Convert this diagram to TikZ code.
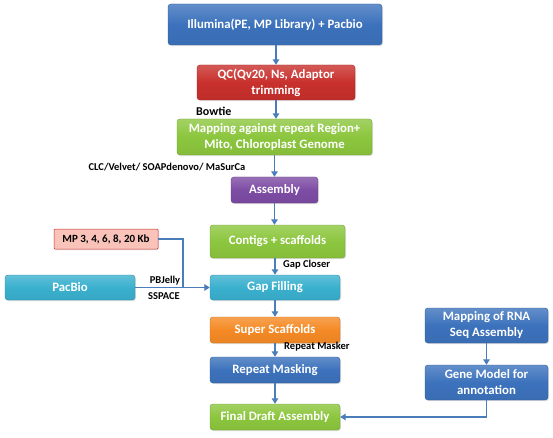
\documentclass[tikz,border=0pt]{standalone}
\usepackage{fontspec}
\setmainfont{Carlito}
\usetikzlibrary{arrows.meta,shadows}
\definecolor{cblue}{HTML}{3C72BC}
\definecolor{cred}{HTML}{C8302C}
\definecolor{cgreen}{HTML}{8CC63E}
\definecolor{cpurple}{HTML}{7D4CA4}
\definecolor{ccyan}{HTML}{3AB0CE}
\definecolor{corange}{HTML}{F58A25}
\definecolor{cpink}{HTML}{F9C3BA}
\definecolor{cline}{HTML}{4A7EBB}
\tikzset{
  box/.style={rounded corners=3pt, text=white, font=\bfseries\fontsize{12.8}{16}\selectfont, align=center, inner sep=0pt, draw=#1!80!black, line width=0.4pt,
    top color=#1!80!white, bottom color=#1!95!black, middle color=#1, drop shadow={shadow xshift=1pt,shadow yshift=-1.2pt,opacity=0.25}},
  lbl/.style={font=\bfseries\fontsize{10.5}{11}\selectfont, text=black, inner sep=0pt},
  conn/.style={draw=cline, line width=1.5pt, -{Triangle[length=5.5pt,width=6.5pt]}},
  plain/.style={draw=cline, line width=1.5pt}
}
\begin{document}
\begin{tikzpicture}[x=1pt,y=-1pt]
\useasboundingbox (0,0) rectangle (553,438);
\node[box=cblue, minimum width=214, minimum height=41] (illu) at (275,24.5) {Illumina(PE, MP Library) + Pacbio};
\node[box=cred, minimum width=158, minimum height=35] (qc) at (276,82.5) {QC(Qv20, Ns, Adaptor\\trimming};
\node[box=cgreen, minimum width=195, minimum height=36] (map) at (274.5,137) {Mapping against repeat Region+\\Mito, Chloroplast Genome};
\node[box=cpurple, minimum width=87, minimum height=26] (asm) at (274.5,190) {Assembly};
\node[box=cgreen, minimum width=135, minimum height=33] (cont) at (277.5,241.5) {Contigs + scaffolds};
\node[rounded corners=1pt, draw=cred, fill=cpink, line width=0.5pt, font=\bfseries\fontsize{11}{12}\selectfont, minimum width=104, minimum height=20, inner sep=0pt, drop shadow={shadow xshift=1pt,shadow yshift=-1pt,opacity=0.2}] (mp) at (106,239) {MP 3, 4, 6, 8, 20 Kb};
\node[box=ccyan, minimum width=130, minimum height=25] (pac) at (70,287.5) {PacBio};
\node[box=ccyan, minimum width=130, minimum height=25] (gap) at (275,287.5) {Gap Filling};
\node[box=corange, minimum width=130, minimum height=26] (sup) at (275,330) {Super Scaffolds};
\node[box=cblue, minimum width=130, minimum height=26] (rep) at (275,370) {Repeat Masking};
\node[box=cgreen, minimum width=130, minimum height=26] (fin) at (275,417) {Final Draft Assembly};
\node[box=cblue, minimum width=123, minimum height=35] (rna) at (486.5,325.5) {Mapping of RNA\\Seq Assembly};
\node[box=cblue, minimum width=123, minimum height=35] (gene) at (486.5,382.5) {Gene Model for\\annotation};
\coordinate (j) at (183,288);
\draw[conn] (illu.south -| qc) -- (qc.north);
\draw[conn] (qc.south) -- (qc.south |- map.north);
\draw[conn] (map.south -| asm) -- (asm.north);
\draw[conn] (asm.south) -- (asm.south |- cont.north);
\draw[conn] (cont.south -| gap) -- (gap.north);
\draw[conn] (gap.south) -- (sup.north);
\draw[conn] (sup.south) -- (rep.north);
\draw[conn] (rep.south) -- (fin.north);
\draw[conn] (rna.south) -- (gene.north);
\draw[conn] (gene.south) |- (fin.east);
\draw[conn] (pac.east) -- (gap.west);
\draw[plain] (mp.east) -| (j);
\node[lbl, anchor=west] (bow) at (196,111) {\fontsize{12}{13}\selectfont Bowtie};
\node[lbl] (clc) at (167,167) {CLC/Velvet/ SOAPdenovo/ MaSurCa};
\node[lbl, anchor=west] (gc) at (283,265) {Gap Closer};
\node[lbl] (pbj) at (165,281) {PBJelly};
\node[lbl] (ssp) at (164,296) {SSPACE};
\node[lbl, anchor=west] (rm) at (284,347) {Repeat Masker};
\end{tikzpicture}
\end{document}
